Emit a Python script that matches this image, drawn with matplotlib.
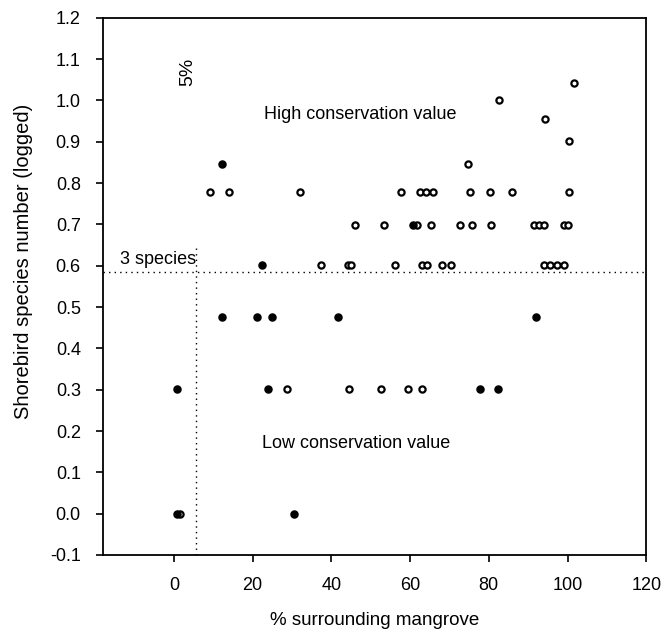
import matplotlib
matplotlib.use("Agg")
import matplotlib.pyplot as plt

plt.rcParams['font.family'] = ['Liberation Sans', 'DejaVu Sans']

# open-looking points (% mangrove, logged species number)
open_x = [9.1, 13.9, 32.0, 57.6, 62.5, 64.0, 65.7, 75.3, 80.3, 85.8, 100.5,
          46.1, 53.5, 61.8, 65.2, 72.7, 75.7, 80.6, 91.5, 92.7, 94.0, 99.2, 100.1,
          37.4, 44.3, 45.0, 56.1, 63.0, 64.3, 68.0, 70.3, 94.1, 95.6, 97.4, 99.2,
          28.8, 44.6, 52.7, 59.4, 63.1, 1.5,
          74.7, 100.3, 94.3, 82.7, 101.6]
open_y = [0.778, 0.778, 0.778, 0.778, 0.778, 0.778, 0.778, 0.778, 0.778, 0.778, 0.778,
          0.699, 0.699, 0.699, 0.699, 0.699, 0.699, 0.699, 0.699, 0.699, 0.699, 0.699, 0.699,
          0.602, 0.602, 0.602, 0.602, 0.602, 0.602, 0.602, 0.602, 0.602, 0.602, 0.602, 0.602,
          0.301, 0.301, 0.301, 0.301, 0.301, 0.0,
          0.845, 0.903, 0.954, 1.0, 1.041]

# solid points
solid_x = [12.1, 22.3, 60.8, 12.2, 21.2, 25.0, 41.8, 92.1, 0.8, 23.8, 77.7, 82.4, 0.9, 30.4]
solid_y = [0.845, 0.602, 0.699, 0.477, 0.477, 0.477, 0.477, 0.477, 0.301, 0.301, 0.301, 0.301, 0.0, 0.0]

species_cut = 0.585   # "3 species" threshold
mangrove_cut = 5.5    # "5%" threshold

x_ticks = [0, 20, 40, 60, 80, 100, 120]
y_ticks = [-0.1, 0.0, 0.1, 0.2, 0.3, 0.4, 0.5, 0.6, 0.7, 0.8, 0.9, 1.0, 1.1, 1.2]

fig = plt.figure(figsize=(6.69, 6.35), dpi=100)
ax = fig.add_axes([0.154, 0.126, 0.812, 0.846])

ax.plot([-18, 120], [species_cut, species_cut], color='black', lw=1.0,
        linestyle=(0, (1, 3)))
ax.plot([mangrove_cut, mangrove_cut], [-0.1, 0.65], color='black', lw=1.0,
        linestyle=(0, (1, 3)))

ax.scatter(open_x, open_y, s=20, facecolors='white', edgecolors='black',
           linewidths=1.6, zorder=3)
ax.scatter(solid_x, solid_y, s=26, color='black', zorder=3)

ax.text(-13.8, 0.615, "3 species", fontsize=13, va='center', ha='left')
ax.text(3.6, 1.07, "5%", fontsize=14, rotation=90, va='center', ha='center')
ax.text(23.0, 0.965, "High conservation value", fontsize=13, va='center')
ax.text(22.3, 0.17, "Low conservation value", fontsize=13, va='center')

ax.set_xlim(-18, 120)
ax.set_ylim(-0.1, 1.2)
ax.set_xticks(x_ticks)
ax.set_yticks(y_ticks)
ax.set_yticklabels([f"{v:.1f}" for v in y_ticks])
ax.tick_params(labelsize=13, direction='out', length=5, width=1.2, pad=11)
for side in ['left', 'bottom', 'top', 'right']:
    ax.spines[side].set_linewidth(1.3)

ax.set_xlabel("% surrounding mangrove", fontsize=13.5)
ax.set_ylabel("Shorebird species number (logged)", fontsize=14.5)
ax.xaxis.set_label_coords(0.5, -0.106)
ax.yaxis.set_label_coords(-0.128, 0.546)

fig.savefig("out.png", dpi=100)
